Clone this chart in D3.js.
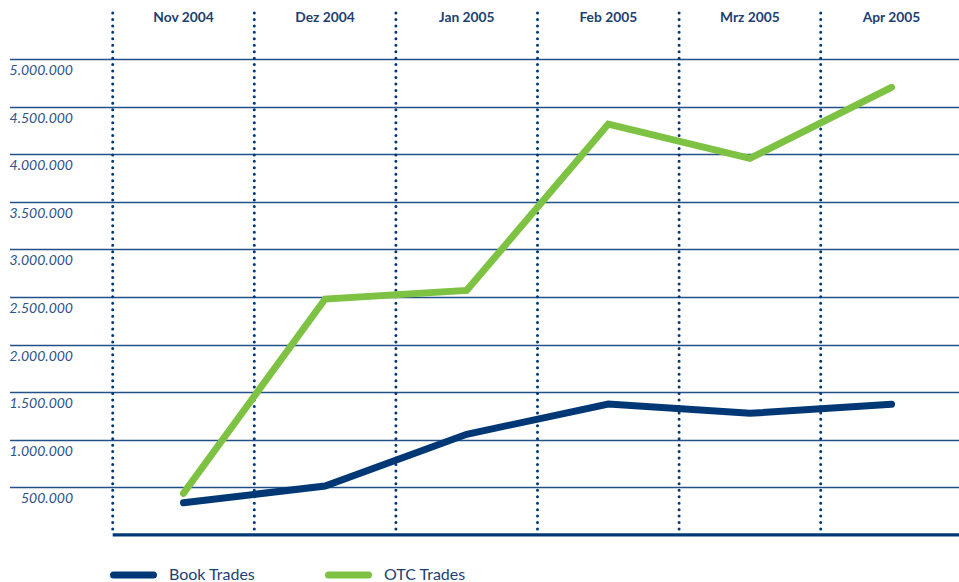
<!DOCTYPE html>
<html lang="de">
	<head>
		<meta charset="utf-8">
		<title>Book Trades / OTC Trades</title>
		<script type="text/javascript" src="https://cdn.jsdelivr.net/npm/d3@7"></script>
		<style>
			body { margin: 0; background: #fff; }
			svg { display: block; font-family: Lato, "Open Sans", sans-serif; }
		</style>
	</head>
	<body>
		<div id="chart"></div>
		<script type="text/javascript">

// data
var months = ["Nov 2004", "Dez 2004", "Jan 2005", "Feb 2005", "Mrz 2005", "Apr 2005"];
var bookTrades = [338000, 514000, 1057000, 1375000, 1277000, 1372000];
var otcTrades = [437000, 2478000, 2569000, 4316000, 3956000, 4702000];
var yTicks = [500000, 1000000, 1500000, 2000000, 2500000, 3000000, 3500000, 4000000, 4500000, 5000000];

var w = 959, h = 582;
var navy = "#003876";
var green = "#7dc242";

var svg = d3.select("#chart")
	.append("svg")
	.attr("width", w)
	.attr("height", h);

// scales
var x = d3.scaleBand()
	.domain(months)
	.range([112.7, 962.3])
	.padding(0);

var y = d3.scaleLinear()
	.domain([0, 5000000])
	.range([534.9, 59]);

// german number format 5.000.000
var fmt = d3.formatLocale({decimal: ",", thousands: ".", grouping: [3], currency: ["", "€"]}).format(",d");

// horizontal grid lines
svg.append("g")
	.selectAll("line")
	.data(yTicks)
	.enter()
	.append("line")
	.attr("x1", 10)
	.attr("x2", w)
	.attr("y1", function(d) { return Math.round(y(d)) + 0.5; })
	.attr("y2", function(d) { return Math.round(y(d)) + 0.5; })
	.attr("stroke", "#24508a")
	.attr("stroke-width", 1.3);

// y labels
svg.append("g")
	.selectAll("text")
	.data(yTicks)
	.enter()
	.append("text")
	.attr("x", 73)
	.attr("y", function(d) { return y(d) + 16; })
	.attr("text-anchor", "end")
	.attr("font-style", "italic")
	.attr("font-size", 14)
	.attr("fill", "#2e5289")
	.text(function(d) { return fmt(d); });

// dotted vertical separators
svg.append("g")
	.selectAll("line")
	.data(months)
	.enter()
	.append("line")
	.attr("x1", function(d) { return x(d); })
	.attr("x2", function(d) { return x(d); })
	.attr("y1", 13)
	.attr("y2", 534)
	.attr("stroke", navy)
	.attr("stroke-width", 3)
	.attr("stroke-linecap", "round")
	.attr("stroke-dasharray", "0,6.45");

// month labels
svg.append("g")
	.selectAll("text")
	.data(months)
	.enter()
	.append("text")
	.attr("x", function(d) { return x(d) + x.bandwidth() / 2; })
	.attr("y", 22)
	.attr("text-anchor", "middle")
	.attr("font-weight", "bold")
	.attr("font-size", 13.8)
	.attr("fill", "#1d3f73")
	.text(function(d) { return d; });

// baseline
svg.append("line")
	.attr("x1", 112.7)
	.attr("x2", w)
	.attr("y1", y(0))
	.attr("y2", y(0))
	.attr("stroke", navy)
	.attr("stroke-width", 3.2);

// lines
var line = d3.line()
	.x(function(d, i) { return x(months[i]) + x.bandwidth() / 2; })
	.y(function(d) { return y(d); });

function drawSeries(data, color) {
	svg.append("path")
		.datum(data)
		.attr("d", line)
		.attr("fill", "none")
		.attr("stroke", color)
		.attr("stroke-width", 7)
		.attr("stroke-linecap", "round")
		.attr("stroke-linejoin", "miter");
}

drawSeries(bookTrades, navy);
drawSeries(otcTrades, green);

// legend
var legend = [
	{name: "Book Trades", color: navy, x: 110},
	{name: "OTC Trades", color: green, x: 325}
];

var lg = svg.append("g")
	.selectAll("g")
	.data(legend)
	.enter()
	.append("g")
	.attr("transform", function(d) { return "translate(" + d.x + ",575)"; });

lg.append("line")
	.attr("x1", 3.5)
	.attr("x2", 43.5)
	.attr("y1", 0)
	.attr("y2", 0)
	.attr("stroke", function(d) { return d.color; })
	.attr("stroke-width", 7)
	.attr("stroke-linecap", "round");

lg.append("text")
	.attr("x", 59)
	.attr("y", 4.5)
	.attr("font-size", 16)
	.attr("fill", "#1d3f73")
	.text(function(d) { return d.name; });

		</script>
	</body>
</html>
